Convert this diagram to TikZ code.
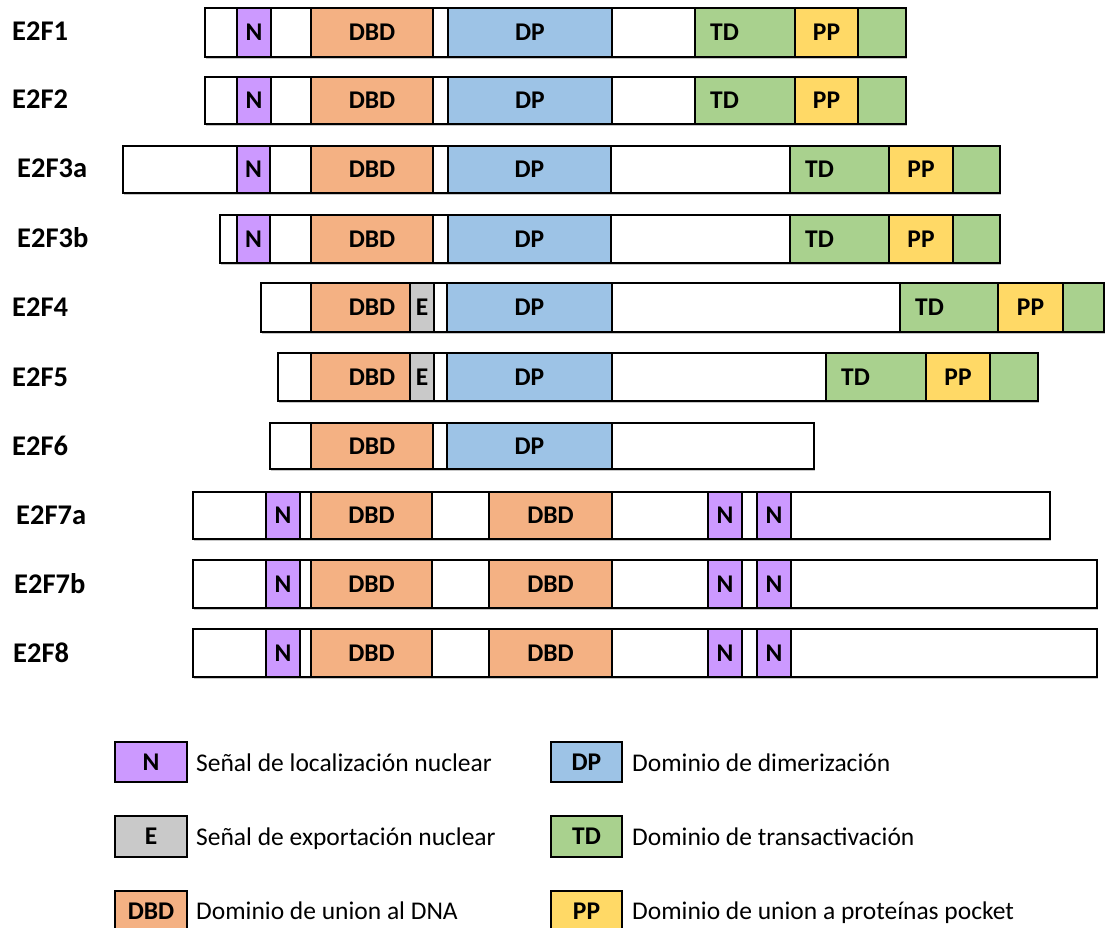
\documentclass[tikz,border=0pt]{standalone}
\usepackage{fontspec}
\setmainfont{Carlito}
\usetikzlibrary{shadows}
\definecolor{nucc}{HTML}{CC99FF}
\definecolor{expc}{HTML}{C9C9C9}
\definecolor{dbdc}{HTML}{F4B183}
\definecolor{dpc}{HTML}{9DC3E6}
\definecolor{tdc}{HTML}{A9D18E}
\definecolor{ppc}{HTML}{FFD966}
\tikzset{
  seg/.style={draw=black, line width=2.9pt, inner sep=0pt, outer sep=0pt,
    font=\fontsize{25.5}{28}\selectfont\bfseries},
  barbox/.style={seg, fill=white, drop shadow={shadow xshift=0.8pt, shadow yshift=-1.6pt, fill=black, opacity=0.22}},
  nbox/.style={seg, fill=nucc},
  ebox/.style={seg, fill=expc},
  dbdbox/.style={seg, fill=dbdc},
  dpbox/.style={seg, fill=dpc},
  tdbox/.style={seg, fill=tdc},
  ppbox/.style={seg, fill=ppc},
  boxtxt/.style={inner sep=0pt, font=\fontsize{25.5}{28}\selectfont\bfseries},
  rowlbl/.style={anchor=base west, inner sep=0pt, font=\fontsize{28.5}{30}\selectfont\bfseries},
  legtxt/.style={anchor=base west, inner sep=0pt, font=\fontsize{25.5}{30}\selectfont},
}
% \seg{name}{x1}{x2}{y1}{y2}{style}{text}
\newcommand\seg[7]{\node[#6, minimum width={(#3)-(#2)}, minimum height={(#5)-(#4)}] (#1) at ({((#2)+(#3))/2},{((#4)+(#5))/2}) {#7};}
\begin{document}
\begin{tikzpicture}[x=1pt,y=-1pt]
\useasboundingbox (0,0) rectangle (1105,928);
\fill[white] (0,0) rectangle (1105,928);

% ---------- E2F1 ----------
\node[rowlbl] (l1) at (12,41) {E2F1};
\seg{b1}{205}{906}{8}{57}{barbox}{}
\seg{b1n}{237}{271}{8}{57}{nbox}{N}
\seg{b1dbd}{311}{433}{8}{57}{dbdbox}{DBD}
\seg{b1dp}{448}{612}{8}{57}{dpbox}{DP}
\seg{b1td}{695}{795}{8}{57}{tdbox}{}
\node[boxtxt, anchor=west] (b1tdt) at ([xshift=15pt]b1td.west) {TD};
\seg{b1pp}{795}{858}{8}{57}{ppbox}{PP}
\seg{b1g}{858}{906}{8}{57}{tdbox}{}

% ---------- E2F2 ----------
\node[rowlbl] (l2) at (12,109) {E2F2};
\seg{b2}{205}{906}{77}{124}{barbox}{}
\seg{b2n}{237}{271}{77}{124}{nbox}{N}
\seg{b2dbd}{311}{433}{77}{124}{dbdbox}{DBD}
\seg{b2dp}{448}{612}{77}{124}{dpbox}{DP}
\seg{b2td}{695}{795}{77}{124}{tdbox}{}
\node[boxtxt, anchor=west] (b2tdt) at ([xshift=15pt]b2td.west) {TD};
\seg{b2pp}{795}{858}{77}{124}{ppbox}{PP}
\seg{b2g}{858}{906}{77}{124}{tdbox}{}

% ---------- E2F3a ----------
\node[rowlbl] (l3) at (17,178) {E2F3a};
\seg{b3}{123}{1000}{146}{193}{barbox}{}
\seg{b3n}{237}{270}{146}{193}{nbox}{N}
\seg{b3dbd}{311}{433}{146}{193}{dbdbox}{DBD}
\seg{b3dp}{448}{611}{146}{193}{dpbox}{DP}
\seg{b3td}{790}{889}{146}{193}{tdbox}{}
\node[boxtxt, anchor=west] (b3tdt) at ([xshift=15pt]b3td.west) {TD};
\seg{b3pp}{889}{953}{146}{193}{ppbox}{PP}
\seg{b3g}{953}{1000}{146}{193}{tdbox}{}

% ---------- E2F3b ----------
\node[rowlbl] (l4) at (17,247) {E2F3b};
\seg{b4}{220}{1000}{215}{263}{barbox}{}
\seg{b4n}{237}{270}{215}{263}{nbox}{N}
\seg{b4dbd}{311}{433}{215}{263}{dbdbox}{DBD}
\seg{b4dp}{448}{611}{215}{263}{dpbox}{DP}
\seg{b4td}{790}{889}{215}{263}{tdbox}{}
\node[boxtxt, anchor=west] (b4tdt) at ([xshift=15pt]b4td.west) {TD};
\seg{b4pp}{889}{953}{215}{263}{ppbox}{PP}
\seg{b4g}{953}{1000}{215}{263}{tdbox}{}

% ---------- E2F4 ----------
\node[rowlbl] (l5) at (12,316) {E2F4};
\seg{b5}{261}{1104}{283}{332}{barbox}{}
\seg{b5dbd}{311}{410}{283}{332}{dbdbox}{}
\node[boxtxt] (b5dbdt) at (372,307.5) {DBD};
\seg{b5e}{410}{434}{283}{332}{ebox}{E}
\seg{b5dp}{447}{612}{283}{332}{dpbox}{DP}
\seg{b5td}{900}{998}{283}{332}{tdbox}{}
\node[boxtxt, anchor=west] (b5tdt) at ([xshift=15pt]b5td.west) {TD};
\seg{b5pp}{998}{1063}{283}{332}{ppbox}{PP}
\seg{b5g}{1063}{1104}{283}{332}{tdbox}{}

% ---------- E2F5 ----------
\node[rowlbl] (l6) at (12,386) {E2F5};
\seg{b6}{278}{1038}{353}{401}{barbox}{}
\seg{b6dbd}{311}{410}{353}{401}{dbdbox}{}
\node[boxtxt] (b6dbdt) at (372,377) {DBD};
\seg{b6e}{410}{434}{353}{401}{ebox}{E}
\seg{b6dp}{447}{612}{353}{401}{dpbox}{DP}
\seg{b6td}{826}{926}{353}{401}{tdbox}{}
\node[boxtxt, anchor=west] (b6tdt) at ([xshift=15pt]b6td.west) {TD};
\seg{b6pp}{926}{990}{353}{401}{ppbox}{PP}
\seg{b6g}{990}{1038}{353}{401}{tdbox}{}

% ---------- E2F6 ----------
\node[rowlbl] (l7) at (12,455) {E2F6};
\seg{b7}{270}{814}{423}{469}{barbox}{}
\seg{b7dbd}{311}{433}{423}{469}{dbdbox}{DBD}
\seg{b7dp}{447}{612}{423}{469}{dpbox}{DP}

% ---------- E2F7a ----------
\node[rowlbl] (l8) at (16,524) {E2F7a};
\seg{b8}{193}{1050}{492}{539}{barbox}{}
\seg{b8n}{266}{300}{492}{539}{nbox}{N}
\seg{b8dbd}{311}{432}{492}{539}{dbdbox}{DBD}
\seg{b8dbdb}{489}{612}{492}{539}{dbdbox}{DBD}
\seg{b8na}{708}{742}{492}{539}{nbox}{N}
\seg{b8nb}{757}{791}{492}{539}{nbox}{N}

% ---------- E2F7b ----------
\node[rowlbl] (l9) at (14,593) {E2F7b};
\seg{b9}{193}{1097}{560}{608}{barbox}{}
\seg{b9n}{266}{300}{560}{608}{nbox}{N}
\seg{b9dbd}{311}{432}{560}{608}{dbdbox}{DBD}
\seg{b9dbdb}{489}{612}{560}{608}{dbdbox}{DBD}
\seg{b9na}{708}{742}{560}{608}{nbox}{N}
\seg{b9nb}{757}{791}{560}{608}{nbox}{N}

% ---------- E2F8 ----------
\node[rowlbl] (l10) at (13,662) {E2F8};
\seg{b10}{193}{1097}{629}{677}{barbox}{}
\seg{b10n}{266}{300}{629}{677}{nbox}{N}
\seg{b10dbd}{311}{432}{629}{677}{dbdbox}{DBD}
\seg{b10dbdb}{489}{612}{629}{677}{dbdbox}{DBD}
\seg{b10na}{708}{742}{629}{677}{nbox}{N}
\seg{b10nb}{757}{791}{629}{677}{nbox}{N}

% ---------- Legend ----------
\seg{kn}{115}{187}{742}{782}{nbox}{N}
\node[legtxt] (kntxt) at (196,771) {Señal de localización nuclear};
\seg{ke}{115}{187}{816}{857}{ebox}{E}
\node[legtxt] (ketxt) at (196,845) {Señal de exportación nuclear};
\seg{kdbd}{115}{187}{891}{931}{dbdbox}{DBD}
\node[legtxt] (kdbdtxt) at (196,919) {Dominio de union al DNA};
\seg{kdp}{551}{622}{742}{782}{dpbox}{DP}
\node[legtxt] (kdptxt) at (632,771) {Dominio de dimerización};
\seg{ktd}{551}{622}{816}{857}{tdbox}{TD}
\node[legtxt] (ktdtxt) at (632,845) {Dominio de transactivación};
\seg{kpp}{551}{622}{891}{931}{ppbox}{PP}
\node[legtxt] (kpptxt) at (632,919) {Dominio de union a proteínas pocket};
\end{tikzpicture}
\end{document}
